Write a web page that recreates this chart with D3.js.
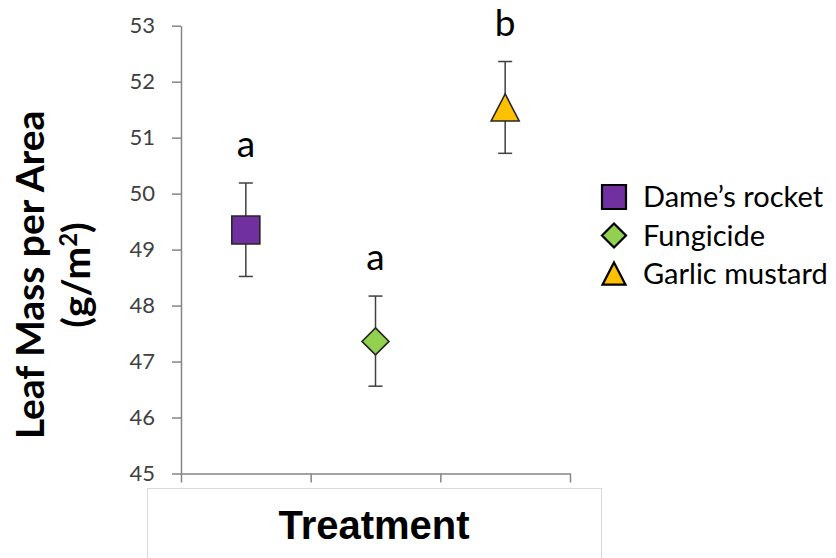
<!DOCTYPE html>
<html>
<head>
<meta charset="utf-8">
<script src="https://cdn.jsdelivr.net/npm/d3@7"></script>
<style>
  html, body { margin: 0; padding: 0; background: #fff; }
  svg { display: block; }
</style>
</head>
<body>
<svg id="chart" width="836" height="558"></svg>
<script>
// Leaf mass per area by treatment (mean ± error)
const categories = ["Dame\u2019s rocket", "Fungicide", "Garlic mustard"];
const means      = [49.35, 47.36, 51.53];
const lowers     = [48.52, 46.56, 50.72];
const uppers     = [50.19, 48.17, 52.36];
const groups     = ["a", "a", "b"];
const yTicks     = [45, 46, 47, 48, 49, 50, 51, 52, 53];
const fills      = ["#7030a0", "#92d050", "#ffc000"];
const shapes     = ["square", "diamond", "triangle"];

const svg = d3.select("#chart");
const calibriLike = "Lato, 'Noto Sans', sans-serif";

const x = d3.scaleBand().domain(categories).range([181, 570]).padding(0);
const y = d3.scaleLinear().domain([45, 53]).range([473.5, 25.7]);

// marker shapes, sized by bounding-box width
const markerTypes = {
  square: {
    draw(ctx, size) { const h = size / 2; ctx.rect(-h, -h, size, size); }
  },
  diamond: {
    draw(ctx, size) {
      const h = size / 2;
      ctx.moveTo(0, -h); ctx.lineTo(h, 0); ctx.lineTo(0, h); ctx.lineTo(-h, 0); ctx.closePath();
    }
  },
  triangle: {
    draw(ctx, size) {
      const h = size / 2;
      ctx.moveTo(0, -h); ctx.lineTo(h, h * 0.93); ctx.lineTo(-h, h * 0.93); ctx.closePath();
    }
  }
};
const markerSize = { square: 28, diamond: 27, triangle: 28 };
const legendSize = { square: 24, diamond: 24, triangle: 23 };

// Y axis
const yAxis = d3.axisLeft(y).tickValues(yTicks).tickSize(9).tickPadding(17).tickSizeOuter(0);
const gy = svg.append("g").attr("transform", "translate(181,0)").call(yAxis);
gy.select(".domain").attr("stroke", "#868686").attr("stroke-width", 1.5);
gy.selectAll(".tick line").attr("stroke", "#868686").attr("stroke-width", 1.5);
gy.selectAll(".tick text")
  .attr("fill", "#404040")
  .style("font-family", calibriLike)
  .style("font-size", "22px");

// X axis: baseline with ticks at category boundaries
const bounds = categories.map(c => x(c)).concat([x(categories[categories.length - 1]) + x.bandwidth()]);
const xLin = d3.scaleLinear().domain([0, bounds.length - 1]).range([bounds[0], bounds[bounds.length - 1]]);
const xAxis = d3.axisBottom(xLin).tickValues(d3.range(bounds.length)).tickSize(9).tickSizeOuter(0).tickFormat("");
const gx = svg.append("g").attr("transform", `translate(0,${y(45)})`).call(xAxis);
gx.select(".domain").attr("stroke", "#868686").attr("stroke-width", 1.5);
gx.selectAll(".tick line").attr("stroke", "#868686").attr("stroke-width", 1.5);

// Error bars
const cx = i => x(categories[i]) + x.bandwidth() / 2;
const eb = svg.append("g").attr("stroke", "#404040").attr("stroke-width", 1.5).attr("fill", "none");
categories.forEach((c, i) => {
  eb.append("line").attr("x1", cx(i)).attr("x2", cx(i)).attr("y1", y(lowers[i])).attr("y2", y(uppers[i]));
  eb.append("line").attr("x1", cx(i) - 7).attr("x2", cx(i) + 7).attr("y1", y(lowers[i])).attr("y2", y(lowers[i]));
  eb.append("line").attr("x1", cx(i) - 7).attr("x2", cx(i) + 7).attr("y1", y(uppers[i])).attr("y2", y(uppers[i]));
});

// Markers
categories.forEach((c, i) => {
  const s = shapes[i];
  svg.append("path")
    .attr("d", d3.symbol().type(markerTypes[s]).size(markerSize[s])())
    .attr("transform", `translate(${cx(i)},${y(means[i])})`)
    .attr("fill", fills[i])
    .attr("stroke", "#262626")
    .attr("stroke-width", 1.6);
});

// Significance letters
svg.append("g").selectAll("text").data(groups).join("text")
  .attr("x", (d, i) => cx(i))
  .attr("y", (d, i) => y(uppers[i]) - 26)
  .attr("text-anchor", "middle")
  .style("font-family", calibriLike)
  .style("font-size", "37px")
  .attr("fill", "#000")
  .text(d => d);

// Legend
const legend = svg.append("g");
categories.forEach((c, i) => {
  const s = shapes[i];
  const ly = 197 + i * 38.5;
  legend.append("path")
    .attr("d", d3.symbol().type(markerTypes[s]).size(legendSize[s])())
    .attr("transform", `translate(614,${ly})`)
    .attr("fill", fills[i])
    .attr("stroke", "#000")
    .attr("stroke-width", 2.2);
  legend.append("text")
    .attr("x", 643).attr("y", ly + 10)
    .style("font-family", calibriLike)
    .style("font-size", "29px")
    .attr("fill", "#000")
    .text(c);
});

// Y axis title
const yt = svg.append("text")
  .attr("transform", "translate(0,275) rotate(-90)")
  .attr("text-anchor", "middle")
  .style("font-family", calibriLike)
  .style("font-weight", "bold")
  .style("font-size", "39px")
  .attr("fill", "#000");
yt.append("tspan").attr("x", 0).attr("y", 44).text("Leaf Mass per Area");
yt.append("tspan").attr("x", 0).attr("y", 90).text("(g/m");
yt.append("tspan").attr("dy", -13).style("font-size", "24px").text("2");
yt.append("tspan").attr("dy", 13).text(")");

// X axis title box
svg.append("rect")
  .attr("x", 147.5).attr("y", 488.5).attr("width", 454).attr("height", 90)
  .attr("fill", "#fff").attr("stroke", "#d9d9d9").attr("stroke-width", 1);
svg.append("text")
  .attr("x", 374).attr("y", 539)
  .attr("text-anchor", "middle")
  .style("font-family", "'Liberation Sans', Arial, sans-serif")
  .style("font-weight", "bold")
  .style("font-size", "40px")
  .attr("fill", "#000")
  .text("Treatment");
</script>
</body>
</html>
